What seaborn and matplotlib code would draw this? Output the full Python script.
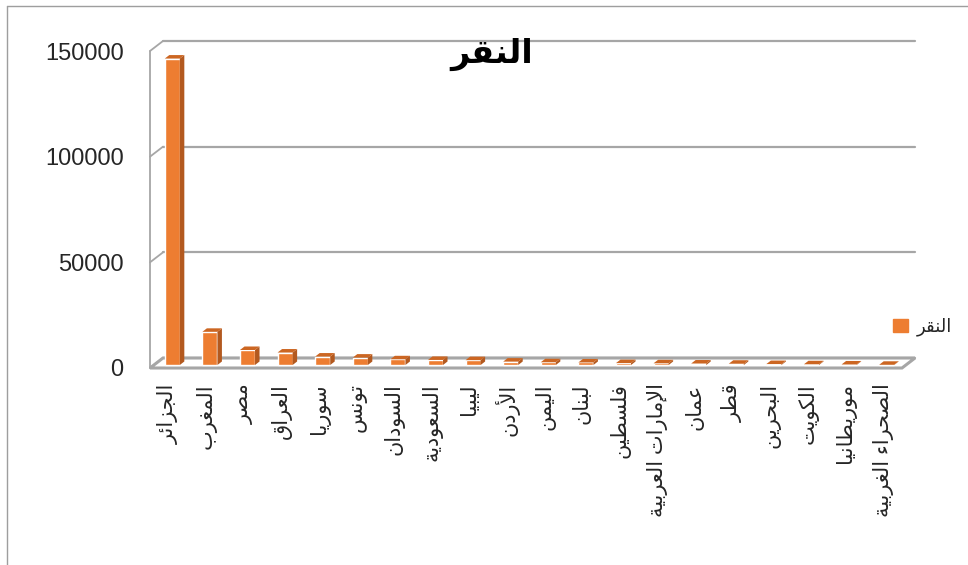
import matplotlib
matplotlib.use("Agg")
import matplotlib.pyplot as plt
from matplotlib.patches import Polygon, Patch
from matplotlib.lines import Line2D
import pandas as pd
import seaborn as sns

# Data
countries = ["الجزائر", "المغرب", "مصر", "العراق", "سوريا", "تونس", "السودان",
             "السعودية", "ليبيا", "الأردن", "اليمن", "لبنان", "فلسطين",
             "الإمارات العربية", "عمان", "قطر", "البحرين", "الكويت",
             "موريطانيا", "الصحراء الغربية"]
clicks = [145000, 15700, 7100, 5900, 4000, 3500, 2700, 2400, 2300, 1600,
          1300, 1200, 900, 800, 700, 600, 450, 350, 250, 100]
y_ticks = [0, 50000, 100000, 150000]
series_name = "النقر"
title = "النقر"

# matplotlib has no arabic shaping, so map letters to presentation forms
DUAL = {'ئ': 0xFE89, 'ب': 0xFE8F, 'ت': 0xFE95, 'ج': 0xFE9D, 'ح': 0xFEA1,
        'س': 0xFEB1, 'ص': 0xFEB9, 'ط': 0xFEC1, 'ع': 0xFEC9, 'غ': 0xFECD,
        'ف': 0xFED1, 'ق': 0xFED5, 'ك': 0xFED9, 'ل': 0xFEDD, 'م': 0xFEE1,
        'ن': 0xFEE5, 'ه': 0xFEE9, 'ي': 0xFEF1}
RIGHT = {'أ': 0xFE83, 'إ': 0xFE87, 'ا': 0xFE8D, 'ة': 0xFE93, 'د': 0xFEA9,
         'ر': 0xFEAD, 'ز': 0xFEAF, 'و': 0xFEED}
ISOL = {'ء': 0xFE80}
LAM_ALEF = {'أ': 0xFEF7, 'إ': 0xFEF9, 'ا': 0xFEFB}


def shape(text):
    out = []
    i = 0
    while i < len(text):
        c = text[i]
        prev = text[i - 1] if i > 0 else ''
        nxt = text[i + 1] if i + 1 < len(text) else ''
        jp = int(prev in DUAL)
        if c == 'ل' and nxt in LAM_ALEF:
            out.append(chr(LAM_ALEF[nxt] + jp))
            i += 2
            continue
        if c in DUAL:
            jn = int(nxt in DUAL or nxt in RIGHT)
            out.append(chr(DUAL[c] + jp + 2 * jn))
        elif c in RIGHT:
            out.append(chr(RIGHT[c] + jp))
        elif c in ISOL:
            out.append(chr(ISOL[c]))
        else:
            out.append(c)
        i += 1
    return ''.join(reversed(out))


sns.set_theme(style="white")
plt.rcParams['font.family'] = ['Liberation Sans', 'DejaVu Sans']

W, H = 968, 565
fig = plt.figure(figsize=(W / 100, H / 100), dpi=100)
ax_l, ax_r, ax_b, ax_t = 150, 902, 368, 51
ax = fig.add_axes([ax_l / W, 1 - ax_b / H, (ax_r - ax_l) / W, (ax_b - ax_t) / H])
ax.set_facecolor("none")

n = len(countries)
ymax = 150000
ax.set_xlim(-0.5, n - 0.5)
ax.set_ylim(0, ymax)

# pixel -> data conversions for the fake 3d offsets
px_x = n / (ax_r - ax_l)
px_y = ymax / (ax_b - ax_t)
wall_dx, wall_dy = 13 * px_x, 10 * px_y
shift_dx, shift_dy = 3.5 * px_x, 3 * px_y
bar_dx, bar_dy = 4.5 * px_x, 3.5 * px_y

grid_c = "#A6A6A6"
x0, x1 = -0.5, n - 0.5

# back wall gridlines and left wall
for v in y_ticks:
    ax.plot([x0 + wall_dx, x1 + wall_dx], [v + wall_dy] * 2, color=grid_c,
            lw=1.6, clip_on=False, zorder=1)
    ax.plot([x0, x0 + wall_dx], [v, v + wall_dy], color=grid_c, lw=1.3,
            clip_on=False, zorder=1)
ax.plot([x0, x0], [0, ymax], color=grid_c, lw=1.3, clip_on=False, zorder=1)

# floor
floor = Polygon([(x0, 0), (x1, 0), (x1 + wall_dx, wall_dy), (x0 + wall_dx, wall_dy)],
                closed=True, facecolor="white", edgecolor=grid_c, lw=2.2,
                clip_on=False, zorder=2)
ax.add_patch(floor)

df = pd.DataFrame({"country": [shape(c) for c in countries], "clicks": clicks})
sns.barplot(data=df, x="country", y="clicks", color="#ED7D31", saturation=1,
            width=0.4, ax=ax, zorder=3)

for p in ax.patches:
    if p is floor:
        continue
    p.set_x(p.get_x() + shift_dx)
    p.set_y(p.get_y() + shift_dy)
    p.set_clip_on(False)
    bx0, by0 = p.get_x(), p.get_y()
    bx1, by1 = bx0 + p.get_width(), by0 + p.get_height()
    side = Polygon([(bx1, by0), (bx1 + bar_dx, by0 + bar_dy),
                    (bx1 + bar_dx, by1 + bar_dy), (bx1, by1)],
                   closed=True, facecolor="#B3591F", edgecolor="none",
                   clip_on=False, zorder=3)
    top = Polygon([(bx0, by1), (bx1, by1), (bx1 + bar_dx, by1 + bar_dy),
                   (bx0 + bar_dx, by1 + bar_dy)],
                  closed=True, facecolor="#CC6622", edgecolor="none",
                  clip_on=False, zorder=3)
    ax.add_patch(side)
    ax.add_patch(top)

ax.set_xlabel("")
ax.set_ylabel("")
ax.set_xticks(range(n))
ax.set_xticklabels(df["country"], rotation=90, fontsize=15, ha="center", va="top")
ax.set_yticks(y_ticks)
ax.set_yticklabels([str(v) for v in y_ticks], fontsize=17)
ax.tick_params(axis="x", length=0, pad=11)
ax.tick_params(axis="y", length=0, pad=19)
for s in ax.spines.values():
    s.set_visible(False)

fig.text(492 / W, 1 - 54 / H, shape(title), ha="center", va="center",
         fontsize=24, fontweight="bold", color="black")

fig.legend(handles=[Patch(color="#ED7D31")], labels=[shape(series_name)],
           loc="center left", bbox_to_anchor=(886 / W, 1 - 327 / H),
           frameon=False, fontsize=13, handlelength=0.8, handleheight=0.8,
           handletextpad=0.5, borderaxespad=0)

# chart area border (top and left edges visible)
fig.add_artist(Line2D([7 / W, 1], [1 - 6 / H] * 2, transform=fig.transFigure,
                      color="#9E9E9E", lw=1))
fig.add_artist(Line2D([7 / W, 7 / W], [0, 1 - 6 / H], transform=fig.transFigure,
                      color="#9E9E9E", lw=1))

fig.savefig("out.png", dpi=100)
